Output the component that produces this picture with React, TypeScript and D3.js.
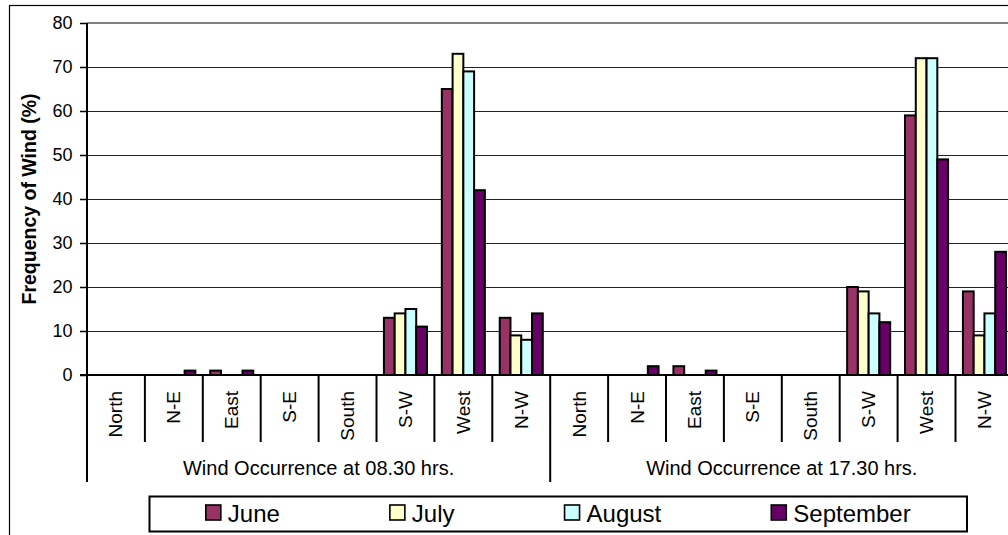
import React, { useEffect, useRef } from "react";
import * as d3 from "d3";

const directions = ["North", "N-E", "East", "S-E", "South", "S-W", "West", "N-W"];
const periods = ["Wind Occurrence at 08.30 hrs.", "Wind Occurrence at 17.30 hrs."];
const seriesNames = ["June", "July", "August", "September"];
const seriesColors = ["#993366", "#FFFFCC", "#CCFFFF", "#660066"];
// values per category: 8 directions at 08.30 hrs, then 8 directions at 17.30 hrs
const juneValues = [0, 0, 1, 0, 0, 13, 65, 13, 0, 0, 2, 0, 0, 20, 59, 19];
const julyValues = [0, 0, 0, 0, 0, 14, 73, 9, 0, 0, 0, 0, 0, 19, 72, 9];
const augustValues = [0, 0, 0, 0, 0, 15, 69, 8, 0, 0, 0, 0, 0, 14, 72, 14];
const septemberValues = [0, 1, 1, 0, 0, 11, 42, 14, 0, 2, 1, 0, 0, 12, 49, 28];
const yTickValues = [0, 10, 20, 30, 40, 50, 60, 70, 80];
const yTitle = "Frequency of Wind (%)";

export default function App() {
  const ref = useRef<SVGSVGElement>(null);

  useEffect(() => {
    const node = ref.current;
    if (!node) return;
    const svg = d3.select(node);
    svg.selectAll("*").remove();

    const font = "'Liberation Sans', Arial, Helvetica, sans-serif";
    const left = 87;
    const top = 23;
    const bottom = 375;
    const catW = 57.9;

    const cats: string[] = [];
    periods.forEach((_, pi) => directions.forEach((_, di) => cats.push(`${pi}-${di}`)));
    const series = [juneValues, julyValues, augustValues, septemberValues];

    const x = d3
      .scaleBand<string>()
      .domain(cats)
      .range([left, left + catW * cats.length])
      .paddingInner(0)
      .paddingOuter(0);
    const xInner = d3
      .scaleBand<string>()
      .domain(seriesNames)
      .range([0, x.bandwidth()])
      .paddingInner(0)
      .paddingOuter(0.69);
    const y = d3.scaleLinear().domain([0, 80]).range([bottom, top]);
    const right = left + catW * cats.length;

    // outer chart border
    svg
      .append("rect")
      .attr("x", 9.5)
      .attr("y", 5.5)
      .attr("width", 1100)
      .attr("height", 600)
      .attr("fill", "#fff")
      .attr("stroke", "#000")
      .attr("stroke-width", 1.2);

    // gridlines
    yTickValues
      .filter((t) => t > 0)
      .forEach((t) => {
        const yy = Math.round(y(t)) + 0.5;
        svg
          .append("line")
          .attr("x1", left)
          .attr("x2", right)
          .attr("y1", t === 80 ? Math.round(y(t)) : yy)
          .attr("y2", t === 80 ? Math.round(y(t)) : yy)
          .attr("stroke", t === 80 ? "#808080" : "#222")
          .attr("stroke-width", t === 80 ? 2 : 1);
      });

    // bars
    series.forEach((vals, si) => {
      svg
        .append("g")
        .selectAll("rect")
        .data(vals.map((v, i) => ({ v, c: cats[i] })).filter((d) => d.v > 0))
        .join("rect")
        .attr("x", (d) => (x(d.c) as number) + (xInner(seriesNames[si]) as number))
        .attr("y", (d) => y(d.v))
        .attr("width", xInner.bandwidth())
        .attr("height", (d) => y(0) - y(d.v))
        .attr("fill", seriesColors[si])
        .attr("stroke", "#000")
        .attr("stroke-width", 2);
    });

    // y axis
    svg
      .append("line")
      .attr("x1", left)
      .attr("x2", left)
      .attr("y1", top)
      .attr("y2", bottom)
      .attr("stroke", "#000")
      .attr("stroke-width", 2);
    yTickValues.forEach((t) => {
      const yy = Math.round(y(t)) + 0.5;
      svg
        .append("line")
        .attr("x1", 80)
        .attr("x2", left)
        .attr("y1", yy)
        .attr("y2", yy)
        .attr("stroke", "#000")
        .attr("stroke-width", 1.5);
      svg
        .append("text")
        .attr("x", 72.5)
        .attr("y", y(t))
        .attr("text-anchor", "end")
        .attr("dominant-baseline", "central")
        .attr("font-family", font)
        .attr("font-size", 18)
        .attr("fill", "#000")
        .text(String(t));
    });

    // x axis
    svg
      .append("line")
      .attr("x1", 80)
      .attr("x2", right)
      .attr("y1", bottom)
      .attr("y2", bottom)
      .attr("stroke", "#000")
      .attr("stroke-width", 2);
    for (let i = 0; i <= cats.length; i++) {
      const xx = left + i * catW;
      const isGroup = i % directions.length === 0;
      svg
        .append("line")
        .attr("x1", xx)
        .attr("x2", xx)
        .attr("y1", bottom)
        .attr("y2", isGroup ? 482 : 442)
        .attr("stroke", "#000")
        .attr("stroke-width", 2);
    }
    cats.forEach((c, i) => {
      const cx = (x(c) as number) + x.bandwidth() / 2;
      svg
        .append("text")
        .attr("transform", `translate(${cx},391) rotate(-90)`)
        .attr("text-anchor", "end")
        .attr("dominant-baseline", "central")
        .attr("font-family", font)
        .attr("font-size", 19)
        .attr("fill", "#000")
        .text(directions[i % directions.length]);
    });
    periods.forEach((p, pi) => {
      const x0 = x(`${pi}-0`) as number;
      const cx = x0 + (catW * directions.length) / 2;
      svg
        .append("text")
        .attr("x", cx)
        .attr("y", 475)
        .attr("text-anchor", "middle")
        .attr("font-family", font)
        .attr("font-size", 20)
        .attr("fill", "#000")
        .text(p);
    });

    // y title
    svg
      .append("text")
      .attr("transform", `translate(29,${(top + bottom) / 2}) rotate(-90)`)
      .attr("text-anchor", "middle")
      .attr("dominant-baseline", "central")
      .attr("font-family", font)
      .attr("font-weight", "bold")
      .attr("font-size", 19.5)
      .attr("fill", "#000")
      .text(yTitle);

    // legend
    const lgX0 = 149.5;
    const lgX1 = 967;
    svg
      .append("rect")
      .attr("x", lgX0)
      .attr("y", 496.5)
      .attr("width", lgX1 - lgX0)
      .attr("height", 35)
      .attr("fill", "#fff")
      .attr("stroke", "#000")
      .attr("stroke-width", 2);
    const lg = svg.append("g");
    const items = seriesNames.map((name, i) => {
      const g = lg.append("g");
      g.append("rect")
        .attr("x", 0)
        .attr("y", 505)
        .attr("width", 15)
        .attr("height", 15)
        .attr("fill", seriesColors[i])
        .attr("stroke", "#000")
        .attr("stroke-width", 1.6);
      const t = g
        .append("text")
        .attr("x", 22)
        .attr("y", 521.5)
        .attr("font-family", font)
        .attr("font-size", 24)
        .attr("fill", "#000")
        .text(name);
      const tw = (t.node() as SVGTextElement).getComputedTextLength();
      return { g, w: 22 + tw };
    });
    const gap = 110;
    const total = d3.sum(items, (d) => d.w) + gap * (items.length - 1);
    let cur = (lgX0 + lgX1) / 2 - total / 2;
    items.forEach((it) => {
      it.g.attr("transform", `translate(${cur},0)`);
      cur += it.w + gap;
    });
  }, []);

  return (
    <svg
      ref={ref}
      width={1008}
      height={535}
      style={{ position: "absolute", left: 0, top: 0, background: "#fff", overflow: "hidden" }}
    />
  );
}
